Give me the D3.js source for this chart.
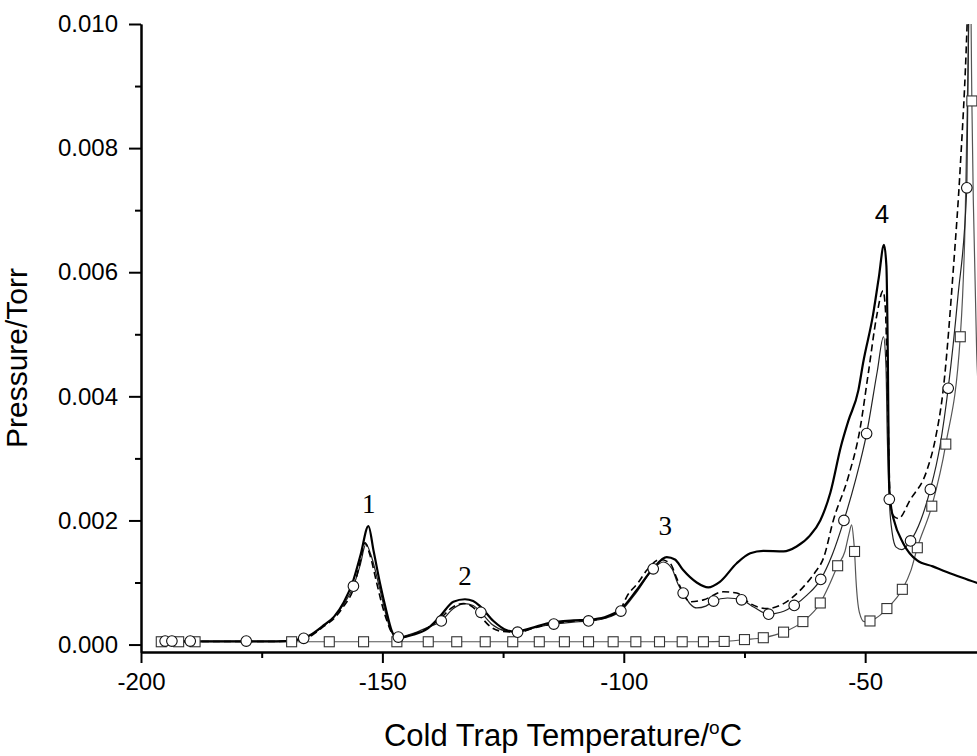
<!DOCTYPE html>
<html>
<head>
<meta charset="utf-8">
<script src="https://cdn.jsdelivr.net/npm/d3@7"></script>
<style>
  body { margin: 0; background: #fff; }
  svg { display: block; }
  text { font-family: "Liberation Sans", Arial, sans-serif; }
</style>
</head>
<body>
<div id="chart"></div>
<script>
// pressure values are in units of 0.001 Torr, temperature in degC
const solidCurve = [[-196.5,0.05],[-185,0.05],[-172,0.05],[-168,0.07],[-165,0.15],[-162,0.32],[-160,0.45],[-158,0.68],[-156,1.04],[-154.5,1.45],[-152.9,1.91],[-151.8,1.5],[-150.5,0.99],[-149.2,0.55],[-148.1,0.23],[-147.2,0.11],[-145.5,0.12],[-143.6,0.16],[-140.8,0.25],[-138.1,0.45],[-135.3,0.69],[-132.9,0.73],[-131.2,0.7],[-129.8,0.62],[-127,0.38],[-124.2,0.23],[-122.5,0.21],[-119,0.27],[-116,0.34],[-110.4,0.39],[-107.3,0.4],[-104,0.44],[-100.6,0.57],[-97.3,0.88],[-93.9,1.23],[-91.1,1.41],[-89.4,1.37],[-87.7,1.2],[-84.9,1.0],[-82.5,0.92],[-80.1,1.01],[-76.6,1.31],[-73.8,1.47],[-71.1,1.51],[-66.9,1.5],[-64.2,1.58],[-61.4,1.76],[-59.3,2.0],[-57.2,2.45],[-55,3.2],[-53.5,3.6],[-51.4,4.1],[-50.4,4.55],[-48.4,5.3],[-47.2,5.9],[-46.1,6.44],[-45.6,6.1],[-45.3,4.6],[-45.05,2.6],[-44.6,2.2],[-44.1,2.02],[-42.1,1.63],[-39.3,1.36],[-36,1.26],[-33.1,1.17],[-30,1.08],[-26,0.97]];

const dashedCurve = [[-196.5,0.05],[-185,0.05],[-172,0.05],[-168,0.06],[-165,0.13],[-162,0.3],[-160,0.42],[-158,0.62],[-156,0.9],[-154.7,1.3],[-153.6,1.64],[-152.6,1.45],[-151.2,1.0],[-150.1,0.65],[-149.1,0.39],[-148,0.18],[-146.8,0.1],[-144,0.16],[-140.8,0.26],[-138,0.42],[-135.5,0.6],[-133.2,0.66],[-131.2,0.6],[-129.3,0.42],[-127.5,0.28],[-125,0.21],[-122,0.2],[-118,0.28],[-114,0.34],[-110,0.38],[-107,0.39],[-103.5,0.44],[-100.6,0.58],[-99.4,0.77],[-97,1.0],[-95.2,1.2],[-92.5,1.37],[-90.4,1.31],[-89.2,1.1],[-88.3,0.93],[-86.3,0.69],[-83.5,0.72],[-79.4,0.85],[-76.6,0.83],[-73.8,0.66],[-70.3,0.58],[-66.9,0.66],[-62.8,0.93],[-60.5,1.15],[-58.6,1.4],[-56.6,2.0],[-53.5,2.7],[-51.1,3.46],[-49.3,4.4],[-47.6,5.3],[-46.3,5.7],[-45.8,5.4],[-45.5,4.6],[-44.8,2.3],[-44.2,2.08],[-43.1,2.03],[-40.7,2.33],[-37.2,2.81],[-35.5,3.3],[-33.8,4.13],[-31.7,6.09],[-30.3,7.7],[-28.9,9.96],[-28.3,11.5]];

const circleCurve = [[-196.5,0.05],[-185,0.05],[-172,0.05],[-168,0.07],[-166.4,0.1],[-163,0.25],[-160,0.45],[-158,0.65],[-156,0.94],[-154.6,1.28],[-153.4,1.62],[-152.4,1.45],[-150.7,0.95],[-149.3,0.5],[-148.2,0.22],[-146.7,0.12],[-143.6,0.18],[-140.8,0.27],[-137.8,0.38],[-135.3,0.58],[-133,0.66],[-131.2,0.63],[-129.6,0.52],[-127.2,0.32],[-124.5,0.22],[-122,0.2],[-118,0.28],[-114.5,0.33],[-110.5,0.36],[-107.3,0.38],[-104,0.42],[-100.6,0.54],[-97.3,0.85],[-93.9,1.22],[-91.8,1.33],[-90,1.22],[-88.8,0.98],[-87.7,0.83],[-86.2,0.65],[-84.9,0.59],[-83,0.62],[-81.4,0.7],[-78.5,0.75],[-75.6,0.72],[-73,0.6],[-70,0.49],[-67.5,0.52],[-64.7,0.63],[-62,0.8],[-59.2,1.05],[-56.8,1.45],[-54.4,2.0],[-52,2.65],[-49.7,3.4],[-47.5,4.4],[-46.2,4.96],[-45.7,4.5],[-45.4,3.3],[-45.0,2.34],[-44.4,1.8],[-43.6,1.57],[-42.4,1.53],[-40.6,1.67],[-38.5,2.0],[-36.5,2.5],[-34.5,3.2],[-32.8,4.13],[-30.8,5.6],[-28.95,7.36],[-28.35,11.5]];

const circleMarks = [[-195.0,0.056],[-193.6,0.056],[-189.8,0.056],[-178.2,0.056],[-166.3,0.1],[-156.0,0.94],[-146.7,0.12],[-137.8,0.38],[-129.6,0.52],[-122.0,0.2],[-114.5,0.33],[-107.3,0.38],[-100.6,0.54],[-93.9,1.22],[-87.7,0.83],[-81.4,0.7],[-75.6,0.72],[-70.0,0.49],[-64.7,0.63],[-59.2,1.05],[-54.4,2.0],[-49.7,3.4],[-45.0,2.34],[-40.6,1.67],[-36.5,2.5],[-32.8,4.13],[-28.95,7.36]];

const squareCurve = [[-195.8,0.045],[-170,0.045],[-100,0.045],[-83.5,0.045],[-79.2,0.05],[-75,0.08],[-71.1,0.11],[-66.9,0.2],[-62.9,0.37],[-59.3,0.67],[-57.5,0.95],[-55.7,1.27],[-54.2,1.5],[-53.3,1.8],[-52.8,1.93],[-52.4,1.7],[-52.2,1.5],[-51.9,1.04],[-51.2,0.52],[-50.2,0.37],[-49.0,0.38],[-47.3,0.45],[-45.5,0.58],[-42.3,0.89],[-40.5,1.2],[-39.2,1.56],[-36.2,2.23],[-33.3,3.23],[-30.3,4.96],[-29.3,6.8],[-28.7,9.3],[-28.3,11.5],[-27.9,8.76],[-27.6,7.16],[-26.9,4.7],[-26,3.6]];

const squareMarks = [[-195.8,0.045],[-192.2,0.045],[-188.8,0.045],[-168.8,0.045],[-161.0,0.045],[-153.9,0.045],[-147.0,0.045],[-140.5,0.045],[-134.6,0.045],[-128.7,0.045],[-123.0,0.045],[-117.5,0.045],[-112.3,0.045],[-107.3,0.045],[-102.2,0.045],[-97.5,0.045],[-92.6,0.045],[-87.9,0.045],[-83.5,0.045],[-79.2,0.05],[-75.0,0.08],[-71.1,0.11],[-66.9,0.2],[-62.9,0.37],[-59.3,0.67],[-55.7,1.27],[-52.2,1.5],[-49.0,0.38],[-45.5,0.58],[-42.3,0.89],[-39.2,1.56],[-36.2,2.23],[-33.3,3.23],[-30.3,4.96],[-27.9,8.76]];

const peakLabels = [
  {text: "1", t: -152.8, p: 2.12, serif: true},
  {text: "2", t: -132.9, p: 0.96, serif: true},
  {text: "3", t: -91.4, p: 1.76, serif: true},
  {text: "4", t: -46.5, p: 6.79, serif: false}
];

const tempTicks = [-200, -150, -100, -50];
const tempMinorTicks = [-175, -125, -75, -25];
const pressTicks = [0, 2, 4, 6, 8, 10];
const pressMinorTicks = [1, 3, 5, 7, 9];

const width = 977;
const height = 756;

const svg = d3.select("#chart")
    .append("svg")
    .attr("width", width)
    .attr("height", height);

const xScale = d3.scaleLinear()
    .domain([-200, -20])
    .range([141, 1010]);

const yScale = d3.scaleLinear()
    .domain([-0.12, 10])
    .range([652, 24]);

svg.append("clipPath")
    .attr("id", "plot-clip")
    .append("rect")
    .attr("x", 141)
    .attr("y", 24)
    .attr("width", 900)
    .attr("height", 627);

const line = d3.line()
    .x(d => xScale(d[0]))
    .y(d => yScale(d[1]))
    .curve(d3.curveMonotoneX);

const plot = svg.append("g").attr("clip-path", "url(#plot-clip)");

plot.append("path")
    .datum(squareCurve)
    .attr("d", line)
    .attr("fill", "none")
    .attr("stroke", "#555")
    .attr("stroke-width", 1.2);

plot.append("path")
    .datum(circleCurve)
    .attr("d", line)
    .attr("fill", "none")
    .attr("stroke", "#222")
    .attr("stroke-width", 1.2);

plot.append("path")
    .datum(dashedCurve)
    .attr("d", line)
    .attr("fill", "none")
    .attr("stroke", "#000")
    .attr("stroke-width", 1.6)
    .attr("stroke-dasharray", "7,4");

plot.append("path")
    .datum(solidCurve)
    .attr("d", line)
    .attr("fill", "none")
    .attr("stroke", "#000")
    .attr("stroke-width", 2.2);

plot.selectAll("rect.sq")
    .data(squareMarks)
    .join("rect")
    .attr("class", "sq")
    .attr("x", d => xScale(d[0]) - 5)
    .attr("y", d => yScale(d[1]) - 5)
    .attr("width", 10)
    .attr("height", 10)
    .attr("fill", "#fff")
    .attr("stroke", "#333")
    .attr("stroke-width", 1.1);

plot.selectAll("circle")
    .data(circleMarks)
    .join("circle")
    .attr("cx", d => xScale(d[0]))
    .attr("cy", d => yScale(d[1]))
    .attr("r", 5.3)
    .attr("fill", "#fff")
    .attr("stroke", "#111")
    .attr("stroke-width", 1.1);

// axes
svg.append("g")
    .attr("transform", "translate(0,652)")
    .call(d3.axisBottom(xScale).tickValues(tempTicks).tickSize(11).tickSizeOuter(0).tickPadding(10)
        .tickFormat(d => String(d)));

svg.append("g")
    .attr("transform", "translate(0,652)")
    .call(d3.axisBottom(xScale).tickValues(tempMinorTicks).tickSize(6).tickSizeOuter(0).tickFormat(""));

svg.append("g")
    .attr("transform", "translate(141,0)")
    .call(d3.axisLeft(yScale).tickValues(pressTicks).tickSize(12).tickSizeOuter(0).tickPadding(11)
        .tickFormat(d => d3.format(".3f")(d / 1000)));

svg.append("g")
    .attr("transform", "translate(141,0)")
    .call(d3.axisLeft(yScale).tickValues(pressMinorTicks).tickSize(6).tickSizeOuter(0).tickFormat(""));

svg.selectAll(".domain, .tick line")
    .attr("stroke", "#000")
    .attr("stroke-width", 2);

svg.selectAll(".tick text")
    .attr("fill", "#000")
    .style("font-family", "'Liberation Sans', Arial, sans-serif")
    .style("font-size", "24px");

svg.selectAll("text.peak")
    .data(peakLabels)
    .join("text")
    .attr("class", "peak")
    .attr("x", d => xScale(d.t))
    .attr("y", d => yScale(d.p))
    .attr("text-anchor", "middle")
    .style("font-family", d => d.serif ? "'Liberation Serif', 'Times New Roman', serif" : "'Liberation Sans', Arial, sans-serif")
    .style("font-size", d => d.serif ? "27px" : "26px")
    .text(d => d.text);

const xTitle = svg.append("text")
    .attr("x", 563)
    .attr("y", 746)
    .attr("text-anchor", "middle")
    .style("font-size", "31px");
xTitle.append("tspan").text("Cold Trap Temperature/");
xTitle.append("tspan").attr("dy", "-12").style("font-size", "19px").text("o");
xTitle.append("tspan").attr("dy", "12").text("C");

svg.append("text")
    .attr("transform", "translate(27,358) rotate(-90)")
    .attr("text-anchor", "middle")
    .style("font-size", "30px")
    .text("Pressure/Torr");
</script>
</body>
</html>
